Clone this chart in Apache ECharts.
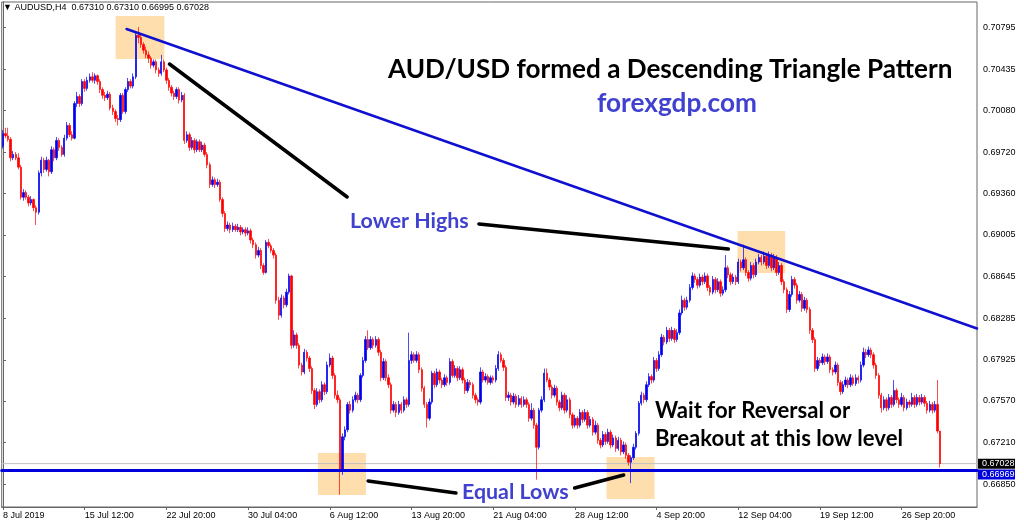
<!DOCTYPE html>
<html><head><meta charset="utf-8">
<script src="https://cdn.jsdelivr.net/npm/echarts@6/dist/echarts.min.js"></script>
<style>html,body{margin:0;padding:0;background:#fff}#c{width:1024px;height:525px}</style>
</head><body><div id="c"></div><script>
// ---------- DATA (AUDUSD H4) ----------
const opens = [
0.6977,0.6988,0.6986,0.6983,0.6967,0.6970,0.6967,0.6959,0.6933,0.6937,
0.6933,0.6928,0.6931,0.6924,0.6920,0.6954,0.6965,0.6957,0.6965,0.6955,
0.6974,0.6967,0.6982,0.6976,0.6970,0.6984,0.6995,0.6987,0.6984,0.7014,
0.7020,0.7014,0.7033,0.7027,0.7034,0.7037,0.7034,0.7038,0.7033,0.7026,
0.7021,0.7019,0.7022,0.7010,0.7007,0.7001,0.7000,0.7021,0.7007,0.7026,
0.7033,0.7029,0.7037,0.7073,0.7071,0.7065,0.7060,0.7056,0.7053,0.7047,
0.7050,0.7043,0.7040,0.7050,0.7043,0.7034,0.7028,0.7023,0.7020,0.7026,
0.7017,0.7021,0.6982,0.6987,0.6976,0.6982,0.6974,0.6981,0.6974,0.6978,
0.6970,0.6961,0.6944,0.6948,0.6944,0.6946,0.6931,0.6919,0.6906,0.6909,
0.6905,0.6908,0.6905,0.6907,0.6903,0.6905,0.6902,0.6904,0.6896,0.6892,
0.6883,0.6887,0.6874,0.6868,0.6894,0.6891,0.6887,0.6883,0.6844,0.6831,
0.6846,0.6840,0.6851,0.6865,0.6805,0.6814,0.6805,0.6788,0.6782,0.6799,
0.6794,0.6785,0.6766,0.6754,0.6765,0.6758,0.6771,0.6765,0.6788,0.6794,
0.6779,0.6762,0.6758,0.6697,0.6726,0.6732,0.6754,0.6749,0.6758,0.6762,
0.6758,0.6779,0.6792,0.6810,0.6803,0.6810,0.6805,0.6810,0.6799,0.6777,
0.6791,0.6777,0.6771,0.6749,0.6754,0.6747,0.6754,0.6749,0.6758,0.6754,
0.6792,0.6797,0.6792,0.6797,0.6784,0.6768,0.6754,0.6742,0.6756,0.6781,
0.6771,0.6782,0.6775,0.6771,0.6777,0.6773,0.6791,0.6779,0.6785,0.6777,
0.6784,0.6775,0.6766,0.6773,0.6771,0.6762,0.6758,0.6756,0.6782,0.6775,
0.6778,0.6773,0.6777,0.6775,0.6785,0.6797,0.6792,0.6786,0.6760,0.6762,
0.6756,0.6761,0.6754,0.6759,0.6754,0.6758,0.6754,0.6742,0.6749,0.6736,
0.6717,0.6749,0.6758,0.6781,0.6775,0.6769,0.6762,0.6768,0.6756,0.6751,
0.6762,0.6749,0.6758,0.6745,0.6736,0.6742,0.6736,0.6747,0.6741,0.6747,
0.6736,0.6741,0.6730,0.6736,0.6723,0.6719,0.6728,0.6722,0.6730,0.6719,
0.6725,0.6716,0.6723,0.6713,0.6719,0.6710,0.6704,0.6708,0.6717,0.6729,
0.6755,0.6762,0.6758,0.6771,0.6778,0.6775,0.6792,0.6785,0.6797,0.6812,
0.6808,0.6818,0.6811,0.6818,0.6810,0.6816,0.6833,0.6844,0.6838,0.6844,
0.6855,0.6865,0.6862,0.6857,0.6864,0.6860,0.6865,0.6855,0.6851,0.6862,
0.6853,0.6860,0.6850,0.6853,0.6872,0.6866,0.6860,0.6864,0.6860,0.6877,
0.6872,0.6879,0.6868,0.6863,0.6874,0.6866,0.6877,0.6881,0.6877,0.6882,
0.6874,0.6883,0.6872,0.6881,0.6868,0.6874,0.6860,0.6853,0.6836,0.6849,
0.6862,0.6857,0.6844,0.6849,0.6837,0.6844,0.6836,0.6818,0.6810,0.6785,
0.6792,0.6790,0.6795,0.6791,0.6795,0.6784,0.6782,0.6788,0.6773,0.6765,
0.6771,0.6775,0.6771,0.6777,0.6772,0.6777,0.6775,0.6788,0.6799,0.6797,
0.6801,0.6797,0.6788,0.6779,0.6762,0.6751,0.6758,0.6751,0.6760,0.6754,
0.6766,0.6758,0.6754,0.6760,0.6751,0.6756,0.6754,0.6760,0.6754,0.6760,
0.6756,0.6760,0.6755,0.6749,0.6754,0.6749,0.6754,0.67310
];
const highs = [
0.6991,0.6993,0.6993,0.6985,0.6973,0.6972,0.6971,0.6961,0.6940,0.6939,
0.6935,0.6934,0.6932,0.6926,0.6956,0.6968,0.6967,0.6968,0.6966,0.6977,
0.6976,0.6985,0.6984,0.6978,0.6987,0.6998,0.6997,0.6990,0.7016,0.7024,
0.7022,0.7035,0.7035,0.7037,0.7040,0.7041,0.7040,0.7039,0.7035,0.7028,
0.7024,0.7025,0.7024,0.7013,0.7009,0.7004,0.7023,0.7023,0.7028,0.7036,
0.7035,0.7040,0.7076,0.7080,0.7074,0.7067,0.7063,0.7059,0.7055,0.7052,
0.7052,0.7045,0.7056,0.7052,0.7045,0.7036,0.7030,0.7025,0.7028,0.7028,
0.7024,0.7023,0.6990,0.6989,0.6985,0.6984,0.6983,0.6983,0.6981,0.6980,
0.6972,0.6963,0.6951,0.6950,0.6949,0.6948,0.6933,0.6921,0.6912,0.6911,
0.6911,0.6910,0.6910,0.6909,0.6907,0.6907,0.6907,0.6906,0.6898,0.6894,
0.6890,0.6889,0.6876,0.6896,0.6897,0.6893,0.6889,0.6885,0.6847,0.6849,
0.6848,0.6854,0.6867,0.6866,0.6818,0.6816,0.6807,0.6790,0.6802,0.6801,
0.6796,0.6787,0.6768,0.6768,0.6767,0.6774,0.6773,0.6791,0.6798,0.6796,
0.6781,0.6766,0.6760,0.6729,0.6735,0.6756,0.6757,0.6761,0.6765,0.6764,
0.6781,0.6795,0.6813,0.6818,0.6813,0.6812,0.6813,0.6812,0.6801,0.6794,
0.6793,0.6780,0.6773,0.6757,0.6756,0.6757,0.6756,0.6761,0.6760,0.6816,
0.6800,0.6799,0.6800,0.6799,0.6786,0.6770,0.6756,0.6759,0.6783,0.6783,
0.6785,0.6784,0.6777,0.6780,0.6779,0.6794,0.6793,0.6788,0.6787,0.6787,
0.6786,0.6777,0.6776,0.6775,0.6773,0.6764,0.6760,0.6786,0.6784,0.6781,
0.6780,0.6779,0.6779,0.6788,0.6800,0.6799,0.6794,0.6788,0.6765,0.6764,
0.6764,0.6763,0.6762,0.6761,0.6761,0.6760,0.6756,0.6755,0.6751,0.6738,
0.6751,0.6761,0.6785,0.6785,0.6777,0.6771,0.6771,0.6770,0.6758,0.6765,
0.6764,0.6762,0.6760,0.6747,0.6745,0.6744,0.6750,0.6749,0.6750,0.6749,
0.6744,0.6743,0.6740,0.6738,0.6725,0.6731,0.6730,0.6733,0.6732,0.6728,
0.6727,0.6726,0.6725,0.6722,0.6721,0.6712,0.6710,0.6720,0.6731,0.6757,
0.6765,0.6764,0.6774,0.6781,0.6780,0.6795,0.6794,0.6800,0.6815,0.6814,
0.6821,0.6820,0.6821,0.6820,0.6819,0.6836,0.6848,0.6846,0.6847,0.6858,
0.6868,0.6867,0.6864,0.6867,0.6866,0.6868,0.6867,0.6857,0.6865,0.6864,
0.6863,0.6862,0.6856,0.6883,0.6874,0.6868,0.6867,0.6866,0.6880,0.6879,
0.6892,0.6881,0.6870,0.6877,0.6876,0.6880,0.6884,0.6883,0.6886,0.6884,
0.6886,0.6885,0.6884,0.6883,0.6877,0.6876,0.6862,0.6855,0.6852,0.6865,
0.6864,0.6859,0.6852,0.6851,0.6847,0.6846,0.6838,0.6820,0.6812,0.6795,
0.6794,0.6798,0.6797,0.6798,0.6797,0.6786,0.6791,0.6790,0.6775,0.6774,
0.6778,0.6777,0.6780,0.6779,0.6780,0.6779,0.6791,0.6803,0.6802,0.6804,
0.6803,0.6799,0.6790,0.6781,0.6764,0.6761,0.6760,0.6763,0.6762,0.6775,
0.6768,0.6760,0.6764,0.6762,0.6759,0.6758,0.6764,0.6762,0.6763,0.6762,
0.6763,0.6762,0.6757,0.6757,0.6756,0.6757,0.6775,0.67310
];
const lows = [
0.6975,0.6984,0.6981,0.6964,0.6965,0.6965,0.6957,0.6931,0.6930,0.6931,
0.6925,0.6926,0.6921,0.6909,0.6918,0.6951,0.6954,0.6955,0.6951,0.6953,
0.6964,0.6965,0.6973,0.6968,0.6968,0.6982,0.6985,0.6982,0.6983,0.7011,
0.7011,0.7012,0.7024,0.7025,0.7032,0.7032,0.7031,0.7030,0.7023,0.7018,
0.7016,0.7017,0.7008,0.7004,0.6998,0.6995,0.6998,0.7005,0.7005,0.7024,
0.7027,0.7027,0.7035,0.7066,0.7062,0.7057,0.7053,0.7049,0.7044,0.7045,
0.7040,0.7037,0.7038,0.7041,0.7031,0.7025,0.7020,0.7017,0.7018,0.7014,
0.7015,0.6979,0.6980,0.6973,0.6974,0.6971,0.6972,0.6972,0.6972,0.6968,
0.6958,0.6941,0.6942,0.6941,0.6942,0.6929,0.6916,0.6903,0.6904,0.6902,
0.6903,0.6903,0.6903,0.6900,0.6901,0.6899,0.6900,0.6893,0.6889,0.6880,
0.6881,0.6871,0.6866,0.6867,0.6889,0.6885,0.6880,0.6841,0.6827,0.6829,
0.6837,0.6838,0.6849,0.6802,0.6803,0.6802,0.6785,0.6779,0.6780,0.6791,
0.6782,0.6763,0.6750,0.6752,0.6755,0.6756,0.6762,0.6763,0.6786,0.6776,
0.6759,0.6755,0.6676,0.6693,0.6723,0.6730,0.6746,0.6747,0.6756,0.6755,
0.6756,0.6777,0.6790,0.6801,0.6801,0.6802,0.6803,0.6796,0.6774,0.6775,
0.6774,0.6768,0.6746,0.6747,0.6743,0.6745,0.6746,0.6747,0.6751,0.6752,
0.6789,0.6790,0.6790,0.6781,0.6765,0.6751,0.6734,0.6740,0.6754,0.6768,
0.6769,0.6772,0.6768,0.6769,0.6770,0.6771,0.6777,0.6777,0.6774,0.6775,
0.6772,0.6763,0.6764,0.6768,0.6759,0.6755,0.6753,0.6754,0.6773,0.6773,
0.6771,0.6771,0.6772,0.6773,0.6783,0.6790,0.6783,0.6757,0.6757,0.6753,
0.6754,0.6751,0.6752,0.6751,0.6752,0.6751,0.6739,0.6740,0.6733,0.6689,
0.6715,0.6747,0.6756,0.6773,0.6766,0.6759,0.6760,0.6753,0.6748,0.6749,
0.6746,0.6747,0.6742,0.6733,0.6734,0.6733,0.6734,0.6738,0.6739,0.6733,
0.6734,0.6727,0.6728,0.6720,0.6716,0.6717,0.6719,0.6720,0.6716,0.6717,
0.6713,0.6714,0.6710,0.6711,0.6707,0.6701,0.6686,0.6706,0.6715,0.6727,
0.6753,0.6755,0.6756,0.6769,0.6772,0.6773,0.6782,0.6783,0.6795,0.6805,
0.6806,0.6808,0.6809,0.6807,0.6808,0.6814,0.6831,0.6835,0.6836,0.6842,
0.6853,0.6859,0.6854,0.6855,0.6857,0.6858,0.6852,0.6848,0.6849,0.6850,
0.6851,0.6847,0.6848,0.6851,0.6863,0.6857,0.6858,0.6857,0.6858,0.6869,
0.6870,0.6865,0.6860,0.6861,0.6863,0.6864,0.6875,0.6874,0.6875,0.6871,
0.6872,0.6869,0.6870,0.6865,0.6866,0.6857,0.6850,0.6833,0.6834,0.6847,
0.6854,0.6841,0.6842,0.6834,0.6835,0.6833,0.6815,0.6807,0.6782,0.6783,
0.6787,0.6788,0.6788,0.6789,0.6781,0.6779,0.6780,0.6770,0.6762,0.6763,
0.6769,0.6768,0.6769,0.6770,0.6770,0.6772,0.6773,0.6786,0.6794,0.6795,
0.6794,0.6785,0.6776,0.6759,0.6747,0.6749,0.6748,0.6749,0.6751,0.6752,
0.6755,0.6751,0.6752,0.6748,0.6749,0.6751,0.6752,0.6751,0.6752,0.6753,
0.6754,0.6752,0.6746,0.6747,0.6746,0.6747,0.6729,0.66995
];
const closes = [
0.6988,0.6986,0.6983,0.6967,0.6970,0.6967,0.6959,0.6933,0.6937,0.6933,
0.6928,0.6931,0.6924,0.6920,0.6954,0.6965,0.6957,0.6965,0.6955,0.6974,
0.6967,0.6982,0.6976,0.6970,0.6984,0.6995,0.6987,0.6984,0.7014,0.7020,
0.7014,0.7033,0.7027,0.7034,0.7037,0.7034,0.7038,0.7033,0.7026,0.7021,
0.7019,0.7022,0.7010,0.7007,0.7001,0.7000,0.7021,0.7007,0.7026,0.7033,
0.7029,0.7037,0.7073,0.7071,0.7065,0.7060,0.7056,0.7053,0.7047,0.7050,
0.7043,0.7040,0.7050,0.7043,0.7034,0.7028,0.7023,0.7020,0.7026,0.7017,
0.7021,0.6982,0.6987,0.6976,0.6982,0.6974,0.6981,0.6974,0.6978,0.6970,
0.6961,0.6944,0.6948,0.6944,0.6946,0.6931,0.6919,0.6906,0.6909,0.6905,
0.6908,0.6905,0.6907,0.6903,0.6905,0.6902,0.6904,0.6896,0.6892,0.6883,
0.6887,0.6874,0.6868,0.6894,0.6891,0.6887,0.6883,0.6844,0.6831,0.6846,
0.6840,0.6851,0.6865,0.6805,0.6814,0.6805,0.6788,0.6782,0.6799,0.6794,
0.6785,0.6766,0.6754,0.6765,0.6758,0.6771,0.6765,0.6788,0.6794,0.6779,
0.6762,0.6758,0.6697,0.6726,0.6732,0.6754,0.6749,0.6758,0.6762,0.6758,
0.6779,0.6792,0.6810,0.6803,0.6810,0.6805,0.6810,0.6799,0.6777,0.6791,
0.6777,0.6771,0.6749,0.6754,0.6747,0.6754,0.6749,0.6758,0.6754,0.6792,
0.6797,0.6792,0.6797,0.6784,0.6768,0.6754,0.6742,0.6756,0.6781,0.6771,
0.6782,0.6775,0.6771,0.6777,0.6773,0.6791,0.6779,0.6785,0.6777,0.6784,
0.6775,0.6766,0.6773,0.6771,0.6762,0.6758,0.6756,0.6782,0.6775,0.6778,
0.6773,0.6777,0.6775,0.6785,0.6797,0.6792,0.6786,0.6760,0.6762,0.6756,
0.6761,0.6754,0.6759,0.6754,0.6758,0.6754,0.6742,0.6749,0.6736,0.6717,
0.6749,0.6758,0.6781,0.6775,0.6769,0.6762,0.6768,0.6756,0.6751,0.6762,
0.6749,0.6758,0.6745,0.6736,0.6742,0.6736,0.6747,0.6741,0.6747,0.6736,
0.6741,0.6730,0.6736,0.6723,0.6719,0.6728,0.6722,0.6730,0.6719,0.6725,
0.6716,0.6723,0.6713,0.6719,0.6710,0.6704,0.6708,0.6717,0.6729,0.6755,
0.6762,0.6758,0.6771,0.6778,0.6775,0.6792,0.6785,0.6797,0.6812,0.6808,
0.6818,0.6811,0.6818,0.6810,0.6816,0.6833,0.6844,0.6838,0.6844,0.6855,
0.6865,0.6862,0.6857,0.6864,0.6860,0.6865,0.6855,0.6851,0.6862,0.6853,
0.6860,0.6850,0.6853,0.6872,0.6866,0.6860,0.6864,0.6860,0.6877,0.6872,
0.6879,0.6868,0.6863,0.6874,0.6866,0.6877,0.6881,0.6877,0.6882,0.6874,
0.6883,0.6872,0.6881,0.6868,0.6874,0.6860,0.6853,0.6836,0.6849,0.6862,
0.6857,0.6844,0.6849,0.6837,0.6844,0.6836,0.6818,0.6810,0.6785,0.6792,
0.6790,0.6795,0.6791,0.6795,0.6784,0.6782,0.6788,0.6773,0.6765,0.6771,
0.6775,0.6771,0.6777,0.6772,0.6777,0.6775,0.6788,0.6799,0.6797,0.6801,
0.6797,0.6788,0.6779,0.6762,0.6751,0.6758,0.6751,0.6760,0.6754,0.6766,
0.6758,0.6754,0.6760,0.6751,0.6756,0.6754,0.6760,0.6754,0.6760,0.6756,
0.6760,0.6755,0.6749,0.6754,0.6749,0.6754,0.6731,0.67028
];
// Time axis: first H4 bar and the right-side chart shift (empty slots)
const firstBarUTC = Date.UTC(2019, 6, 8, 4);
const emptySlots = 14;
// Bottom tick labels (bar index -> text)
const xTickIndex = [0, 32, 64, 96, 128, 160, 192, 224, 256, 288, 320, 352];
const xTickLabels = ['8 Jul 2019','15 Jul 12:00','22 Jul 20:00','30 Jul 04:00','6 Aug 12:00','13 Aug 20:00',
  '21 Aug 04:00','28 Aug 12:00','4 Sep 20:00','12 Sep 04:00','19 Sep 12:00','26 Sep 20:00'];
// Right price-scale labels
const yTickValues = [0.70795,0.70435,0.70080,0.69720,0.69360,0.69005,0.68645,0.68285,0.67925,0.67570,0.67210,0.66850];
const yRange = [0.666535, 0.710167];
// Horizontal levels
const equalLowsLevel = 0.66969;
const bidLevel = 0.67028;
// Drawn objects (bar index, price)
const trendLine = [[48.4, 0.70783], [381.5, 0.68196]];
const pointerLines = [
  [[65.2, 0.70481], [134.8, 0.69332]],
  [[186.4, 0.69099], [284.1, 0.68883]],
  [[143.0, 0.66878], [177.4, 0.66775]],
  [[223.9, 0.66818], [243.1, 0.66930]]
];
const boxes = [
  [[44.1, 0.70896], [63.2, 0.70524]],
  [[287.7, 0.69038], [306.4, 0.68675]],
  [[123.4, 0.67120], [142.2, 0.66757]],
  [[236.4, 0.67086], [255.2, 0.66723]]
];

// ---------- BUILD ----------
const MON = ['Jan','Feb','Mar','Apr','May','Jun','Jul','Aug','Sep','Oct','Nov','Dec'];
const categories = [];
let t = firstBarUTC;
while (categories.length < opens.length + emptySlots) {
  const d = new Date(t);
  const wd = d.getUTCDay();
  if (wd !== 0 && wd !== 6) {
    const hh = String(d.getUTCHours()).padStart(2,'0');
    categories.push(d.getUTCDate() + ' ' + MON[d.getUTCMonth()] + ' ' + hh + ':00');
  }
  t += 4 * 3600 * 1000;
}
const N = categories.length;
const tickSet = new Set(xTickIndex);
const candleData = opens.map((o, i) => [o, closes[i], lows[i], highs[i]]);

const chart = echarts.init(document.getElementById('c'), null, {renderer: 'canvas'});
const FONT = 'Liberation Sans, Arial, sans-serif';

function lineSeries(pts, color, width, z) {
  return {type: 'line', xAxisIndex: 1, yAxisIndex: 0, data: pts, symbol: 'none', silent: true, z: z,
    animation: false, lineStyle: {color: color, width: width, cap: 'round'}};
}

const series = [
  {type: 'line', xAxisIndex: 1, yAxisIndex: 0, data: [], z: 1, silent: true, animation: false,
    markArea: {silent: true, itemStyle: {color: '#FFDEAD'},
      data: boxes.map(b => [{coord: b[0]}, {coord: b[1]}])}},
  lineSeries([[-0.5, bidLevel], [N - 0.5, bidLevel]], '#c0c0c0', 1, 2),
  {type: 'candlestick', xAxisIndex: 0, yAxisIndex: 0, data: candleData, z: 3, barWidth: 1.9,
    animation: false, silent: true,
    itemStyle: {color: '#0000f0', color0: '#ff0000', borderColor: '#0000f0', borderColor0: '#ff0000', borderWidth: 0.7}},
  lineSeries([[-0.5, equalLowsLevel], [N - 0.5, equalLowsLevel]], '#0000dd', 3, 4),
  lineSeries(trendLine, '#1010d0', 2.5, 5)
].concat(pointerLines.map(p => lineSeries(p, '#000000', 3.5, 6)));

chart.setOption({
  animation: false,
  backgroundColor: '#ffffff',
  grid: {left: 0, right: 47, top: 2, bottom: 18, show: true, borderColor: '#666', borderWidth: 1, containLabel: false},
  xAxis: [
    {type: 'category', data: categories, boundaryGap: true,
      axisLine: {lineStyle: {color: '#666'}},
      axisTick: {show: true, length: 3, alignWithLabel: true, interval: (i) => tickSet.has(i), lineStyle: {color: '#666'}},
      axisLabel: {interval: (i) => tickSet.has(i), align: 'left', margin: 4, fontSize: 9, color: '#000', fontFamily: FONT,
        formatter: (v, i) => xTickLabels[xTickIndex.indexOf(i)] || ''},
      splitLine: {show: false}},
    {type: 'value', min: -0.5, max: N - 0.5, show: false}
  ],
  yAxis: [{type: 'value', position: 'right', min: yRange[0], max: yRange[1], scale: true,
    axisLine: {show: true, lineStyle: {color: '#666'}},
    axisTick: {show: true, length: 3, customValues: yTickValues, lineStyle: {color: '#666'}},
    axisLabel: {customValues: yTickValues, margin: 6, fontSize: 9, color: '#000', fontFamily: FONT,
      formatter: (v) => v.toFixed(5)},
    splitLine: {show: false}}],
  series: series
});

// ---------- Annotation texts and price tags ----------
const mctx = document.createElement('canvas').getContext('2d');
function fit(text, weight, family, width) {
  mctx.font = weight + ' 100px ' + family;
  return 100 * width / mctx.measureText(text).width;
}
const ANN = 'Lato';
const sizeWait = fit('Breakout at this low level', 'bold', ANN, 248);
const sizeBlue = (fit('Lower Highs', 'bold', ANN, 117) + fit('Equal Lows', 'bold', ANN, 108)) / 2;
const texts = [
  {text: 'AUD/USD formed a Descending Triangle Pattern', x: 388, y: 70, s: fit('AUD/USD formed a Descending Triangle Pattern', 'bold', ANN, 565), color: '#000000'},
  {text: 'forexgdp.com', x: 597, y: 104, s: fit('forexgdp.com', 'bold', ANN, 160), color: '#4141cf'},
  {text: 'Lower Highs', x: 350, y: 221, s: sizeBlue, color: '#4141cf'},
  {text: 'Equal Lows', x: 462, y: 492, s: sizeBlue, color: '#4141cf'},
  {text: 'Wait for Reversal or', x: 655, y: 411, s: sizeWait, color: '#000000'},
  {text: 'Breakout at this low level', x: 655, y: 439, s: sizeWait, color: '#000000'}
];
const graphics = texts.map(tx => ({type: 'text', x: tx.x, y: tx.y, z: 100,
  style: {text: tx.text, fill: tx.color, font: 'bold ' + tx.s.toFixed(1) + 'px ' + ANN,
    align: 'left', verticalAlign: 'middle'}}));

graphics.push({type: 'text', x: 3, y: 8, z: 100, style: {text: '\u25BC AUDUSD,H4  0.67310 0.67310 0.66995 0.67028',
  fill: '#000', font: '9px ' + FONT, align: 'left', verticalAlign: 'middle'}});

const yBid = chart.convertToPixel({yAxisIndex: 0}, bidLevel);
const yLow = chart.convertToPixel({yAxisIndex: 0}, equalLowsLevel);
function tag(y, bg, txt) {
  graphics.push({type: 'rect', z: 100, shape: {x: 978, y: y - 5, width: 37, height: 10}, style: {fill: bg}});
  graphics.push({type: 'text', z: 101, x: 982, y: y, style: {text: txt, fill: '#fff', font: '9px ' + FONT, align: 'left', verticalAlign: 'middle'}});
}
tag(yLow + 4, '#0000dd', equalLowsLevel.toFixed(5));
tag(yBid, '#000000', bidLevel.toFixed(5));
chart.setOption({graphic: graphics});
</script></body></html>
